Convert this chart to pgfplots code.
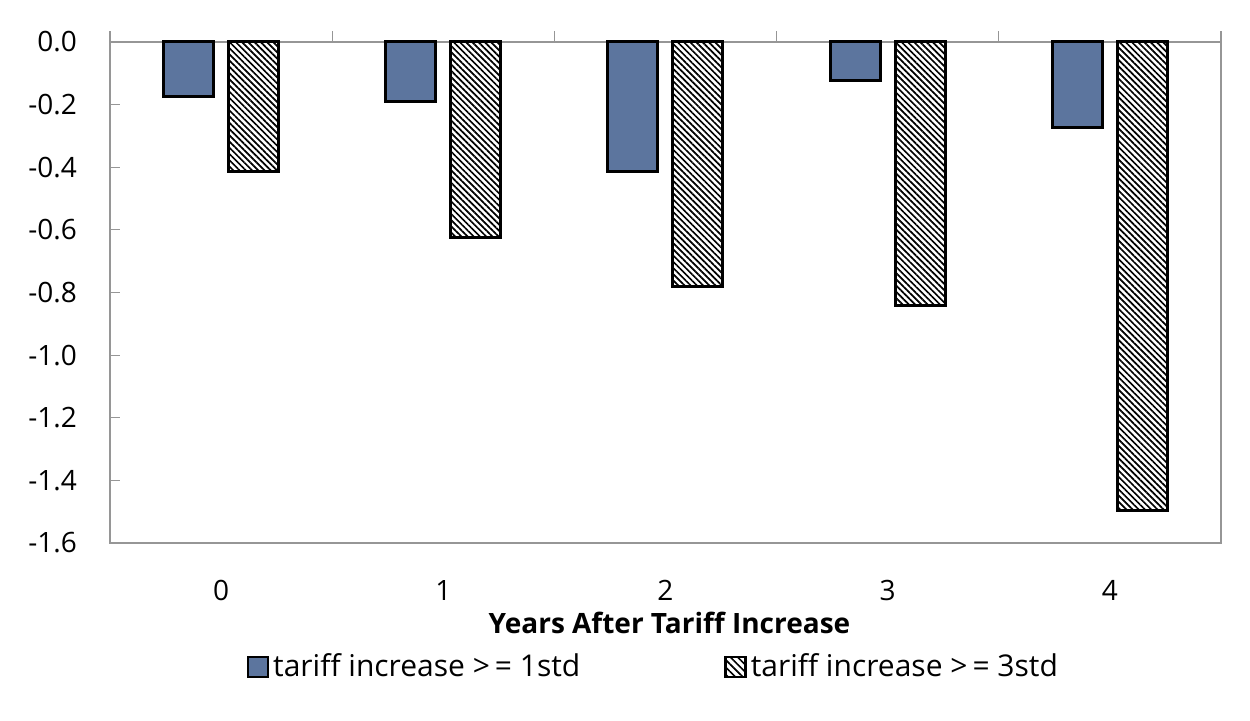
\documentclass[border=0pt]{standalone}
\usepackage{fontspec}
\setmainfont{Open Sans}
\usepackage{pgfplots}
\pgfplotsset{compat=1.18}
\usetikzlibrary{patterns.meta}
\definecolor{barblue}{RGB}{92,117,158}
\definecolor{framegray}{RGB}{150,150,150}
\begin{document}
\begin{tikzpicture}
\path[use as bounding box] (-55pt,-89pt) rectangle (570pt,271.5pt);
\begin{axis}[
  scale only axis, width=555.5pt, height=250.5pt,
  ybar=7.5pt, bar width=25pt,
  xmin=-0.5, xmax=4.5, ymin=-1.6, ymax=0,
  xtick={0,1,2,3,4}, xticklabels={0,1,2,3,4},
  xtick pos=lower, x tick style={draw=none},
  ytick={-1.6,-1.4,-1.2,-1.0,-0.8,-0.6,-0.4,-0.2,0},
  ytick pos=left, tick align=inside,
  y tick style={framegray, line width=0.6pt}, major tick length=5pt,
  axis line style={framegray, line width=0.6pt},
  yticklabel style={font=\fontsize{14}{16}\selectfont, xshift=-13pt,
    /pgf/number format/fixed, /pgf/number format/fixed zerofill,
    /pgf/number format/precision=1, /pgf/number format/assume math mode=true},
  xticklabel style={font=\fontsize{14}{16}\selectfont, yshift=-15pt},
  xlabel={\bfseries Years After Tariff Increase},
  xlabel style={font=\fontsize{14}{16}\selectfont, at={(axis description cs:0.5,0)}, anchor=center, yshift=-40pt, xshift=2pt},
  legend columns=2,
  legend style={at={(axis description cs:0.49,0)}, anchor=center, yshift=-62pt,
    draw=none, fill=none, font=\fontsize{15}{17}\selectfont,
    /tikz/every even column/.append style={column sep=70pt}},
  clip=false,
]
\addplot[fill=barblue, draw=black, line width=1.5pt,
  legend image code/.code={\draw[fill=barblue, draw=black, line width=1.2pt] (0pt,-5pt) rectangle (10pt,5pt);}]
  coordinates {(0,-0.175) (1,-0.19) (2,-0.415) (3,-0.122) (4,-0.274)};
\addplot[pattern={Lines[angle=-45, distance=2.2pt, line width=0.85pt]}, draw=black, line width=1.5pt,
  legend image code/.code={\draw[pattern={Lines[angle=-45, distance=2.6pt, line width=0.8pt]}, draw=black, line width=1.2pt] (0pt,-5pt) rectangle (10pt,5pt);}]
  coordinates {(0,-0.413) (1,-0.625) (2,-0.782) (3,-0.843) (4,-1.497)};
\legend{tariff increase >\,= 1std, tariff increase >\,= 3std}
\pgfplotsinvokeforeach{-0.5,0.5,1.5,2.5,3.5,4.5}{
  \draw[framegray, line width=0.6pt] (axis cs:#1,0) -- ++(0pt,5.5pt);
}
\end{axis}
\end{tikzpicture}
\end{document}
